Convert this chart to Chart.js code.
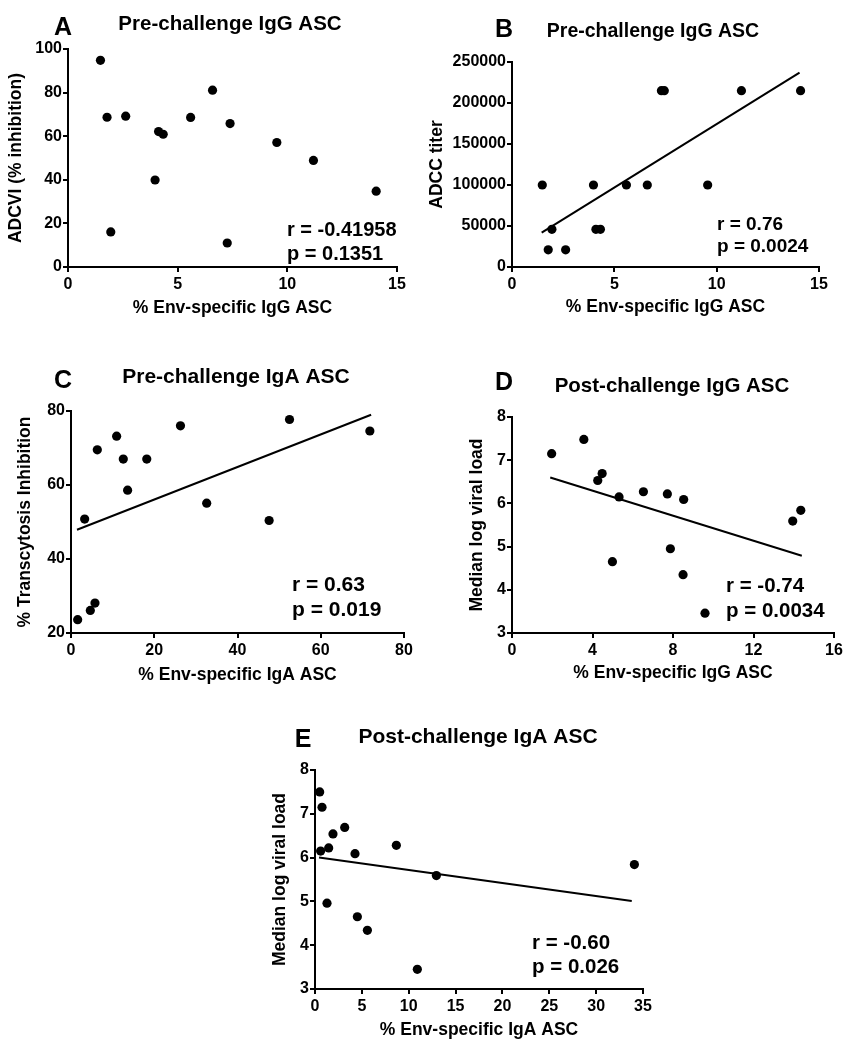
<!DOCTYPE html>
<html>
<head>
<meta charset="utf-8">
<script src="https://cdn.jsdelivr.net/npm/chart.js@4/dist/chart.umd.min.js"></script>
<style>
  body { margin: 0; background: #fff; width: 855px; height: 1050px; position: relative; overflow: hidden; }
  canvas { position: absolute; }
</style>
</head>
<body>
<canvas id="cA"></canvas>
<canvas id="cB"></canvas>
<canvas id="cC"></canvas>
<canvas id="cD"></canvas>
<canvas id="cE"></canvas>
<script>
// panel A - ADCVI vs % Env-specific IgG ASC
const aX = [1.48, 1.78, 2.63, 1.95, 3.97, 4.13, 4.34, 5.59, 6.59, 7.39, 7.26, 9.52, 11.19, 14.05];
const aY = [94.8, 68.7, 69.2, 16.1, 39.9, 62.1, 60.9, 68.6, 81.1, 65.8, 11.0, 57.1, 48.9, 34.8];
const aXTicks = [0, 5, 10, 15];
const aYTicks = [0, 20, 40, 60, 80, 100];

// panel B - ADCC titer
const bX = [1.48, 1.95, 1.77, 2.62, 3.98, 4.10, 4.32, 5.59, 6.61, 7.30, 7.44, 9.56, 11.21, 14.10];
const bY = [100000, 46000, 21000, 21000, 100000, 46000, 46000, 100000, 100000, 215000, 215000, 100000, 215000, 215000];
const bFitX = [1.45, 14.05];
const bFitY = [42000, 237000];
const bXTicks = [0, 5, 10, 15];
const bYTicks = [0, 50000, 100000, 150000, 200000, 250000];

// panel C - transcytosis inhibition vs IgA ASC
const cX = [1.6, 4.64, 5.76, 3.28, 6.32, 10.96, 12.56, 13.6, 18.2, 26.3, 32.6, 47.6, 52.5, 71.8];
const cY = [23.6, 26.1, 28.1, 50.8, 69.5, 73.2, 67.0, 58.6, 67.0, 76.0, 55.1, 50.4, 77.7, 74.6];
const cFitX = [1.44, 72.1];
const cFitY = [47.9, 79.0];
const cXTicks = [0, 20, 40, 60, 80];
const cYTicks = [20, 40, 60, 80];

// panel D - post-challenge IgG, viral load
const dX = [1.97, 3.57, 4.26, 4.48, 5.32, 4.99, 6.53, 7.72, 7.87, 8.53, 8.50, 9.59, 13.95, 14.35];
const dY = [7.15, 7.48, 6.53, 6.69, 6.15, 4.65, 6.27, 6.22, 4.95, 6.09, 4.35, 3.46, 5.59, 5.84];
const dFitX = [1.9, 14.4];
const dFitY = [6.60, 4.79];
const dXTicks = [0, 4, 8, 12, 16];
const dYTicks = [3, 4, 5, 6, 7, 8];

// panel E - post-challenge IgA, viral load
const eX = [0.5, 0.75, 0.6, 1.46, 1.92, 3.17, 4.27, 1.28, 4.52, 5.59, 8.68, 12.95, 10.92, 34.08];
const eY = [7.50, 7.15, 6.15, 6.22, 6.54, 6.69, 6.09, 4.96, 4.65, 4.34, 6.28, 5.59, 3.45, 5.84];
const eFitX = [0.43, 33.8];
const eFitY = [6.00, 5.01];
const eXTicks = [0, 5, 10, 15, 20, 25, 30, 35];
const eYTicks = [3, 4, 5, 6, 7, 8];

const FONT = '"Liberation Sans", Arial, Helvetica, sans-serif';
const tickFont = { family: FONT, size: 16, weight: 'bold' };
const titleFont = { family: FONT, size: 17.5, weight: 'bold', lineHeight: 1.2 };
const LH = 17.5 * 1.2;

const panelText = {
  id: 'panelText',
  afterDraw(chart, args, opts) {
    const ctx = chart.ctx;
    ctx.save();
    ctx.fillStyle = '#000';
    ctx.textBaseline = 'alphabetic';
    opts.items.forEach(t => {
      ctx.font = 'bold ' + t.size + 'px ' + FONT;
      ctx.textAlign = t.align;
      ctx.fillText(t.text, t.x - opts.left, t.y - opts.top);
    });
    ctx.restore();
  }
};

function axis(min, max, ticks, title, fitSize, horizontal, pad) {
  return {
    type: 'linear',
    min: min,
    max: max,
    afterBuildTicks: s => { s.ticks = ticks.map(v => ({ value: v })); },
    afterFit: s => { if (horizontal) s.height = fitSize; else s.width = fitSize; },
    ticks: { font: tickFont, color: '#000', padding: pad, maxRotation: 0, autoSkip: false, callback: v => String(v) },
    grid: { display: true, drawOnChartArea: false, drawTicks: true, tickLength: 5, color: '#000', lineWidth: 2 },
    border: { display: true, color: '#000', width: 2 },
    title: { display: true, text: title, font: titleFont, color: '#000', padding: 0 }
  };
}

function makePanel(id, g, xs, ys, fitX, fitY, xTicks, yTicks, xTitle, yTitle, items) {
  const [L, T, W, H] = g.box;
  const [pl, pt, pr, pb] = g.plot;
  const cv = document.getElementById(id);
  cv.width = W; cv.height = H;
  cv.style.left = L + 'px'; cv.style.top = T + 'px';
  cv.style.width = W + 'px'; cv.style.height = H + 'px';

  const yLeft = g.yTitleX - LH / 2;
  const xBottom = g.xTitleY + LH / 2;

  const datasets = [{
    type: 'scatter',
    data: xs.map((x, i) => ({ x: x, y: ys[i] })),
    pointRadius: 4.6,
    pointHoverRadius: 4.6,
    backgroundColor: '#000',
    borderWidth: 0,
    clip: false
  }];
  if (fitX) {
    datasets.push({
      type: 'line',
      data: fitX.map((x, i) => ({ x: x, y: fitY[i] })),
      borderColor: '#000',
      borderWidth: 2,
      pointRadius: 0,
      fill: false,
      clip: false
    });
  }

  return new Chart(cv, {
    type: 'scatter',
    data: { datasets: datasets },
    plugins: [panelText],
    options: {
      responsive: false,
      animation: false,
      devicePixelRatio: 1,
      layout: { padding: { left: yLeft - L, top: pt - T, right: L + W - pr, bottom: T + H - xBottom } },
      plugins: {
        legend: { display: false },
        tooltip: { enabled: false },
        panelText: { left: L, top: T, items: items }
      },
      scales: {
        x: axis(xTicks[0], xTicks[xTicks.length - 1], xTicks, xTitle, xBottom - pb, true, 3),
        y: axis(yTicks[0], yTicks[yTicks.length - 1], yTicks, yTitle, pl - yLeft, false, 1)
      }
    }
  });
}

makePanel('cA', { box: [0, 0, 427, 330], plot: [68, 49, 397, 267], yTitleX: 16.5, xTitleY: 308 },
  aX, aY, null, null, aXTicks, aYTicks, '% Env-specific IgG ASC', 'ADCVI (% inhibition)', [
    { text: 'A', size: 25, align: 'center', x: 63, y: 35 },
    { text: 'Pre-challenge IgG ASC', size: 20.5, align: 'center', x: 230, y: 30 },
    { text: 'r = -0.41958', size: 20, align: 'left', x: 287, y: 236 },
    { text: 'p = 0.1351', size: 20, align: 'left', x: 287, y: 260 }
  ]);

makePanel('cB', { box: [420, 0, 435, 330], plot: [512, 62, 819, 267], yTitleX: 437, xTitleY: 307 },
  bX, bY, bFitX, bFitY, bXTicks, bYTicks, '% Env-specific IgG ASC', 'ADCC titer', [
    { text: 'B', size: 25, align: 'center', x: 504, y: 37 },
    { text: 'Pre-challenge IgG ASC', size: 19.5, align: 'center', x: 653, y: 37 },
    { text: 'r = 0.76', size: 19, align: 'left', x: 717, y: 230 },
    { text: 'p = 0.0024', size: 19, align: 'left', x: 717, y: 252 }
  ]);

makePanel('cC', { box: [0, 330, 427, 370], plot: [71, 411, 404, 633], yTitleX: 25, xTitleY: 675 },
  cX, cY, cFitX, cFitY, cXTicks, cYTicks, '% Env-specific IgA ASC', '% Transcytosis Inhibition', [
    { text: 'C', size: 25, align: 'center', x: 63, y: 388 },
    { text: 'Pre-challenge IgA ASC', size: 21, align: 'center', x: 236, y: 383 },
    { text: 'r = 0.63', size: 21, align: 'left', x: 292, y: 591 },
    { text: 'p = 0.019', size: 21, align: 'left', x: 292, y: 616 }
  ]);

makePanel('cD', { box: [427, 330, 428, 370], plot: [512, 417, 834, 633], yTitleX: 477, xTitleY: 673 },
  dX, dY, dFitX, dFitY, dXTicks, dYTicks, '% Env-specific IgG ASC', 'Median log viral load', [
    { text: 'D', size: 25, align: 'center', x: 504, y: 390 },
    { text: 'Post-challenge IgG ASC', size: 20.5, align: 'center', x: 672, y: 392 },
    { text: 'r = -0.74', size: 20.5, align: 'left', x: 726, y: 592 },
    { text: 'p = 0.0034', size: 20.5, align: 'left', x: 726, y: 617 }
  ]);

makePanel('cE', { box: [213, 690, 450, 360], plot: [315, 770, 643, 989], yTitleX: 280, xTitleY: 1030 },
  eX, eY, eFitX, eFitY, eXTicks, eYTicks, '% Env-specific IgA ASC', 'Median log viral load', [
    { text: 'E', size: 25, align: 'center', x: 303, y: 747 },
    { text: 'Post-challenge IgA ASC', size: 21, align: 'center', x: 478, y: 743 },
    { text: 'r = -0.60', size: 20.5, align: 'left', x: 532, y: 949 },
    { text: 'p = 0.026', size: 20.5, align: 'left', x: 532, y: 973 }
  ]);
</script>
</body>
</html>
